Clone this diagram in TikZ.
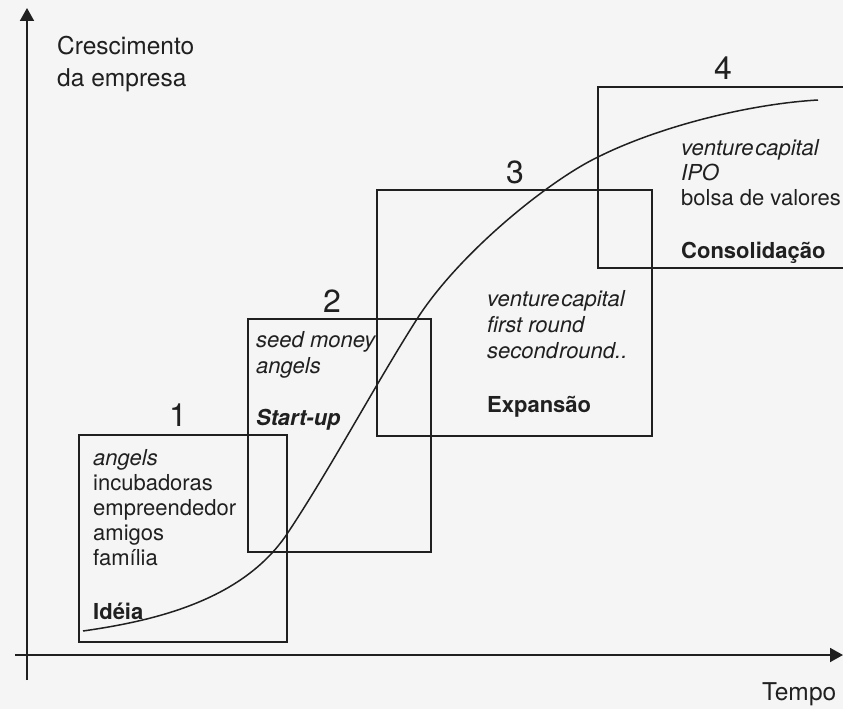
\documentclass[tikz,border=0pt]{standalone}
\usepackage{fontspec}
\setmainfont{TeX Gyre Heros}
\usetikzlibrary{arrows.meta}

\definecolor{ink}{RGB}{32,32,32}
\definecolor{paper}{RGB}{245,245,245}

\begin{document}
\begin{tikzpicture}[x=1pt,y=-1pt,
  axis/.style={draw=ink,line width=1.9pt,-{Triangle[length=13pt,width=14pt]}},
  stagebox/.style={draw=ink,line width=1.5pt,inner sep=0pt,rectangle},
  growth/.style={draw=ink,line width=1.5pt},
  txt/.style={anchor=base west,inner sep=0pt,text=ink,font=\fontsize{22}{25}\selectfont},
  ittxt/.style={txt,font=\fontsize{22}{25}\selectfont\itshape},
  stagename/.style={txt,font=\fontsize{22}{25}\selectfont\bfseries},
  stagenum/.style={anchor=base,inner sep=0pt,text=ink,font=\fontsize{32}{32}\selectfont},
  axislabel/.style={anchor=base west,inner sep=0pt,text=ink,font=\fontsize{24.5}{31}\selectfont}
]
% page
\fill[paper] (0,0) rectangle (843,709);
\useasboundingbox (0,0) rectangle (843,709);
\clip (0,0) rectangle (843,709);

% axes
\coordinate (yfoot) at (27,680);
\coordinate (ytip) at (27,8);
\coordinate (xfoot) at (15,655);
\coordinate (xtip) at (843,655);
\draw[axis] (yfoot) -- (ytip);
\draw[axis] (xfoot) -- (xtip);

\node[axislabel] (ylab1) at (57,55) {Crescimento};
\node[axislabel] (ylab2) at (57,86) {da empresa};
\node[axislabel] (xlab) at (762,700) {Tempo};

% stage boxes
\node[stagebox,minimum width=208pt,minimum height=207pt] (box1) at (183,538.5) {};
\node[stagebox,minimum width=183pt,minimum height=233pt] (box2) at (339.5,435.5) {};
\node[stagebox,minimum width=275pt,minimum height=246pt] (box3) at (514.5,313) {};
\node[stagebox,minimum width=262pt,minimum height=181pt] (box4) at (729,177.5) {};

% stage numbers
\node[stagenum] (n1) at (178,426) {1};
\node[stagenum] (n2) at (332,312) {2};
\node[stagenum] (n3) at (515,183) {3};
\node[stagenum] (n4) at (723,80) {4};

% growth curve (S-shaped)
\coordinate (g0) at (83,631);
\coordinate (g1) at (287,534);
\coordinate (g2) at (417,319);
\coordinate (g3) at (598,157);
\coordinate (g4) at (818,100);
\draw[growth] (g0) .. controls (153,621) and (242,601) .. (g1)
                   .. controls (330,469.5) and (375,385) .. (g2)
                   .. controls (460,252) and (550,180) .. (g3)
                   .. controls (658,127) and (748,104) .. (g4);

% stage 1
\node[ittxt] (s1a) at (93,465) {angels};
\node[txt] (s1b) at (93,490.2) {incubadoras};
\node[txt] (s1c) at (93,515.4) {empreendedor};
\node[txt] (s1d) at (93,540.6) {amigos};
\node[txt] (s1e) at (93,565.8) {família};
\node[stagename] (s1n) at (93,619) {Idéia};

% stage 2
\node[ittxt] (s2a) at (256,347) {seed money};
\node[ittxt] (s2b) at (256,373) {angels};
\node[stagename,font=\fontsize{22}{25}\selectfont\bfseries\itshape] (s2n) at (256,425) {Start-up};

% stage 3
\node[ittxt] (s3a) at (487,306) {venture\hspace{0.08em}capital};
\node[ittxt] (s3b) at (487,332) {first round};
\node[ittxt] (s3c) at (487,358) {second\hspace{0.05em}round..};
\node[stagename] (s3n) at (487,412) {Expansão};

% stage 4
\node[ittxt] (s4a) at (681,155) {venture\hspace{0.08em}capital};
\node[ittxt] (s4b) at (681,180) {IPO};
\node[txt] (s4c) at (681,205) {bolsa de valores};
\node[stagename] (s4n) at (681,258) {Consolidação};
\end{tikzpicture}
\end{document}
